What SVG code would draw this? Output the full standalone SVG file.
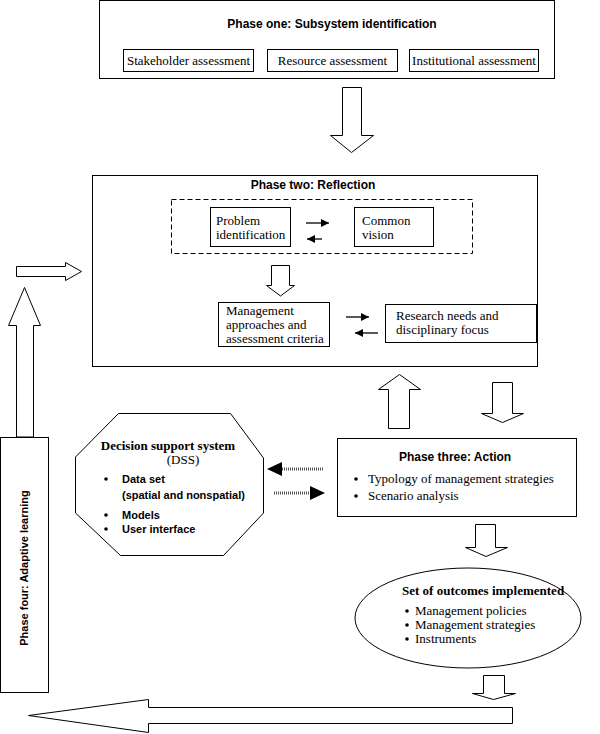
<svg xmlns="http://www.w3.org/2000/svg" width="600" height="734" viewBox="0 0 600 734">
<defs>
<style>
.box{fill:#fff;stroke:#000;stroke-width:1}
.big{fill:#fff;stroke:#000;stroke-width:1;stroke-linejoin:miter}
.ts{font-family:"Liberation Sans",Arial,sans-serif;font-weight:bold;font-size:12px;fill:#000}
.tsb{font-family:"Liberation Sans",Arial,sans-serif;font-weight:bold;font-size:11px;fill:#000}
.tr{font-family:"Liberation Serif","Times New Roman",serif;font-size:13px;fill:#000}
.trb{font-family:"Liberation Serif","Times New Roman",serif;font-weight:bold;font-size:13px;fill:#000}
.ln{stroke:#000;stroke-width:1.3;fill:none}
.dot{stroke:#555;stroke-width:3;stroke-dasharray:1 1;fill:none}
</style>
<marker id="ah" viewBox="0 0 8 8" refX="8" refY="4" markerWidth="8" markerHeight="8" markerUnits="userSpaceOnUse" orient="auto">
<path d="M0,0 L8,4 L0,8 Z" fill="#000"/>
</marker>
</defs>

<g id="phase1">
<rect class="box" x="99.5" y="0.5" width="455" height="78"/>
<text class="ts" x="332" y="28" text-anchor="middle">Phase one: Subsystem identification</text>
<rect class="box" x="123.5" y="49.5" width="130" height="22"/>
<text class="tr" x="188.5" y="65" text-anchor="middle">Stakeholder assessment</text>
<rect class="box" x="267.5" y="49.5" width="130" height="22"/>
<text class="tr" x="332.5" y="65" text-anchor="middle">Resource assessment</text>
<rect class="box" x="409.5" y="49.5" width="129" height="22"/>
<text class="tr" x="474" y="65" text-anchor="middle">Institutional assessment</text>
</g>

<g id="phase2">
<rect class="box" x="92.5" y="175.5" width="445" height="191"/>
<text class="ts" x="313" y="189" text-anchor="middle">Phase two: Reflection</text>
<rect x="171.5" y="199.5" width="301" height="54" fill="none" stroke="#000" stroke-width="1" stroke-dasharray="5 3"/>
</g>

<g id="problem">
<rect class="box" x="210.5" y="207.5" width="80" height="39"/>
<text class="tr" x="216" y="225">Problem</text>
<text class="tr" x="216" y="239">identification</text>
</g>

<g id="vision">
<rect class="box" x="354.5" y="207.5" width="79" height="39"/>
<text class="tr" x="362" y="225">Common</text>
<text class="tr" x="362" y="239">vision</text>
</g>

<g id="management">
<rect class="box" x="218.5" y="302.5" width="111" height="44"/>
<text class="tr" x="226" y="315">Management</text>
<text class="tr" x="226" y="329">approaches and</text>
<text class="tr" x="226" y="343">assessment criteria</text>
</g>

<g id="research">
<rect class="box" x="385.5" y="304.5" width="151" height="38"/>
<text class="tr" x="396" y="320">Research needs and</text>
<text class="tr" x="396" y="334">disciplinary focus</text>
</g>

<g id="phase3">
<rect class="box" x="337.5" y="438.5" width="239" height="78"/>
<text class="ts" x="455" y="461" text-anchor="middle">Phase three: Action</text>
<circle cx="356" cy="479" r="1.8" fill="#000"/>
<text class="tr" x="368" y="483">Typology of management strategies</text>
<circle cx="356" cy="496" r="1.8" fill="#000"/>
<text class="tr" x="368" y="500">Scenario analysis</text>
</g>

<g id="dss">
<polygon class="box" points="118.5,413.5 230.5,413.5 263.5,458 263.5,513 223.5,555.5 120.5,555.5 75.5,513 75.5,457"/>
<text class="trb" x="168" y="450" text-anchor="middle">Decision support system</text>
<text class="tr" x="183" y="464" text-anchor="middle">(DSS)</text>
<circle cx="106" cy="479" r="1.8" fill="#000"/>
<text class="tsb" x="122" y="483">Data set</text>
<text class="tsb" x="122" y="499">(spatial and nonspatial)</text>
<circle cx="106" cy="515" r="1.8" fill="#000"/>
<text class="tsb" x="122" y="519">Models</text>
<circle cx="106" cy="529" r="1.8" fill="#000"/>
<text class="tsb" x="122" y="533">User interface</text>
</g>

<g id="outcomes">
<ellipse class="box" cx="468" cy="618" rx="113" ry="50"/>
<text class="trb" x="402" y="595">Set of outcomes implemented</text>
<circle cx="407" cy="611" r="1.8" fill="#000"/>
<text class="tr" x="415" y="615">Management policies</text>
<circle cx="407" cy="625" r="1.8" fill="#000"/>
<text class="tr" x="415" y="629">Management strategies</text>
<circle cx="407" cy="639" r="1.8" fill="#000"/>
<text class="tr" x="415" y="643">Instruments</text>
</g>

<g id="phase4">
<rect class="box" x="0.5" y="437.5" width="48" height="255"/>
<text class="tsb" transform="translate(28,568) rotate(-90)" text-anchor="middle">Phase four: Adaptive learning</text>
</g>

<g id="connectors">
<polygon class="big" points="342.5,87.5 361.5,87.5 361.5,135.5 373.5,135.5 351.5,152.5 330.5,135.5 342.5,135.5"/>
<line class="ln" x1="306" y1="223" x2="329" y2="223" marker-end="url(#ah)"/>
<line class="ln" x1="322" y1="239" x2="307" y2="239" marker-end="url(#ah)"/>
<polygon class="big" points="271.5,265.5 289.5,265.5 289.5,285.5 294.5,285.5 280.5,296 266.5,285.5 271.5,285.5"/>
<line class="ln" x1="346" y1="317" x2="369" y2="317" marker-end="url(#ah)"/>
<line class="ln" x1="378" y1="333" x2="355" y2="333" marker-end="url(#ah)"/>
<polygon class="big" points="388.5,428.5 388.5,389.5 378.5,389.5 399.5,374.5 420.5,389.5 409.5,389.5 409.5,428.5"/>
<polygon class="big" points="492.5,382.5 512.5,382.5 512.5,413.5 523.5,413.5 502.5,422.5 481.5,413.5 492.5,413.5"/>
<line class="dot" x1="323" y1="469" x2="282" y2="469"/>
<polygon points="282,462 282,476 267,469" fill="#000"/>
<line class="dot" x1="274" y1="493" x2="310" y2="493"/>
<polygon points="310,486 310,500 325,493" fill="#000"/>
<polygon class="big" points="475.5,524.5 495.5,524.5 495.5,547.5 507.5,547.5 486,556.5 465.5,547.5 475.5,547.5"/>
<polygon class="big" points="483.5,675.5 504.5,675.5 504.5,693.5 515.5,693.5 493.5,699.5 472.5,693.5 483.5,693.5"/>
<polygon class="big" points="512.5,707.5 148.5,707.5 148.5,699.5 28.5,715.5 148.5,732.5 148.5,723.5 512.5,723.5"/>
<polygon class="big" points="16.5,437 16.5,325.5 8.5,325.5 24.5,287.5 40.5,325.5 33.5,325.5 33.5,437"/>
<polygon class="big" points="16.5,266.5 65.5,266.5 65.5,262.5 81.5,271.5 65.5,280.5 65.5,276.5 16.5,276.5"/>
</g>
</svg>
